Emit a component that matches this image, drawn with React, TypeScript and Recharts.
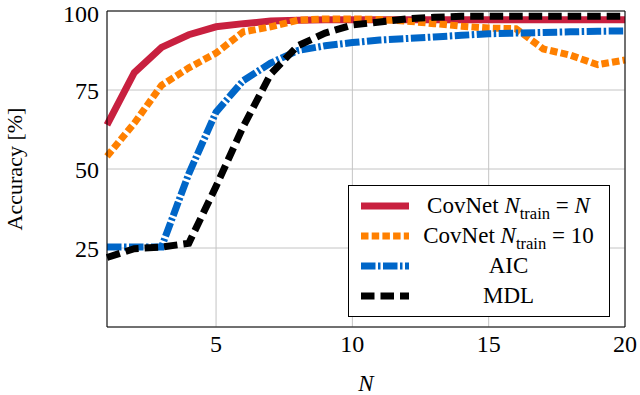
import { LineChart, Line, XAxis, YAxis, CartesianGrid, Legend } from 'recharts'

const FONT = '"Liberation Serif", "DejaVu Serif", "Noto Serif", serif'

const N_VALUES = [1, 2, 3, 4, 5, 6, 7, 8, 9, 10, 11, 12, 13, 14, 15, 16, 17, 18, 19, 20]
const COVNET_N = [64, 80.5, 88.5, 92.5, 95, 96, 96.8, 97.1, 97.2, 97.2, 97.2, 97.2, 97.2, 97.2, 97.2, 97.2, 97.2, 97.2, 97.2, 97.2]
const COVNET_10 = [54, 64.5, 76.5, 82, 86.7, 93.4, 95, 97.1, 97.5, 97.5, 97.3, 96.8, 96, 95.2, 94.6, 94.4, 88, 86, 83, 84.5]
const AIC = [25.3, 25.3, 25.3, 48.5, 68, 78, 83.5, 87.5, 89, 90, 90.8, 91.3, 91.8, 92.3, 92.8, 93, 93.2, 93.4, 93.6, 93.7]
const MDL = [22, 24.8, 25.3, 26.5, 44.5, 63.5, 80, 89, 93, 95.6, 96.5, 97.5, 98, 98.3, 98.3, 98.3, 98.3, 98.3, 98.3, 98.3]

const X_TICKS = [5, 10, 15, 20]
const Y_TICKS = [25, 50, 75, 100]

const data = N_VALUES.map((n, i) => ({
  n,
  covnetN: COVNET_N[i],
  covnet10: COVNET_10[i],
  aic: AIC[i],
  mdl: MDL[i],
}))

const Sub = ({ children }: { children: React.ReactNode }) => (
  <sub style={{ fontSize: '0.72em', verticalAlign: '-0.35em', lineHeight: 0 }}>{children}</sub>
)

const SERIES = [
  {
    key: 'covnetN',
    color: '#c8203f',
    dash: undefined as string | undefined,
    label: (
      <>
        CovNet <i>N</i>
        <Sub>train</Sub> = <i>N</i>
      </>
    ),
  },
  {
    key: 'covnet10',
    color: '#ff8000',
    dash: '7.5 3.2',
    label: (
      <>
        CovNet <i>N</i>
        <Sub>train</Sub> = 10
      </>
    ),
  },
  { key: 'aic', color: '#0066c8', dash: '14.5 2.5 2.5 2.5', label: <>AIC</> },
  { key: 'mdl', color: '#000000', dash: '13.5 6', label: <>MDL</> },
]

function LegendBox() {
  return (
    <div
      style={{
        border: '1px solid #000',
        background: '#fff',
        padding: '5px 0',
        width: 260,
        fontFamily: FONT,
        fontSize: 23,
        color: '#000',
      }}
    >
      {SERIES.map((s) => (
        <div key={s.key} style={{ display: 'flex', alignItems: 'center', height: 30 }}>
          <svg width={48} height={10} style={{ marginLeft: 12, flex: 'none' }}>
            <line x1={0} y1={5} x2={48} y2={5} stroke={s.color} strokeWidth={7} strokeDasharray={s.dash} />
          </svg>
          <span style={{ width: 179, marginLeft: 10, textAlign: 'center', whiteSpace: 'nowrap' }}>{s.label}</span>
        </div>
      ))}
    </div>
  )
}

const tickFont = { fill: '#000', fontSize: 24, fontFamily: FONT }

export default function App() {
  return (
    <div style={{ position: 'absolute', left: 0, top: 0, background: '#fff', fontFamily: FONT }}>
      <LineChart width={640} height={395} data={data} margin={{ top: 11, right: 15, bottom: 0, left: 0 }}>
        <CartesianGrid stroke="#c4c4c4" strokeWidth={1} />
        <XAxis
          dataKey="n"
          type="number"
          domain={[1, 20]}
          ticks={X_TICKS}
          height={68}
          tickLine={false}
          axisLine={false}
          tickSize={0}
          tickMargin={8}
          tick={tickFont}
          label={{ value: 'N', position: 'insideBottom', offset: 4, fill: '#000', fontSize: 23, fontStyle: 'italic', fontFamily: FONT }}
        />
        <YAxis
          type="number"
          domain={[0, 100]}
          ticks={Y_TICKS}
          width={107}
          tickLine={false}
          axisLine={false}
          tickSize={0}
          tickMargin={8}
          tick={tickFont}
          label={{
            value: 'Accuracy [%]',
            angle: -90,
            position: 'insideLeft',
            offset: 14,
            fill: '#000',
            fontSize: 22,
            fontFamily: FONT,
            style: { textAnchor: 'middle' },
          }}
        />
        {/* inward ticks + frame, pgfplots style */}
        <XAxis xAxisId="bottomFrame" orientation="bottom" mirror type="number" domain={[1, 20]} allowDataOverflow ticks={X_TICKS} tick={false} tickSize={4} height={10} stroke="#000" />
        <XAxis xAxisId="topFrame" orientation="top" mirror type="number" domain={[1, 20]} allowDataOverflow ticks={X_TICKS} tick={false} tickSize={4} height={10} stroke="#000" />
        <YAxis yAxisId="leftFrame" orientation="left" mirror type="number" domain={[0, 100]} allowDataOverflow ticks={Y_TICKS} tick={false} tickSize={4} width={10} stroke="#000" />
        <YAxis yAxisId="rightFrame" orientation="right" mirror type="number" domain={[0, 100]} allowDataOverflow ticks={Y_TICKS} tick={false} tickSize={4} width={10} stroke="#000" />
        {SERIES.map((s) => (
          <Line
            key={s.key}
            type="linear"
            dataKey={s.key}
            stroke={s.color}
            strokeWidth={7}
            strokeDasharray={s.dash}
            dot={false}
            activeDot={false}
            isAnimationActive={false}
          />
        ))}
        <Legend
          layout="vertical"
          align="center"
          verticalAlign="middle"
          content={() => <LegendBox />}
          wrapperStyle={{ position: 'absolute', left: 348, top: 185, width: 262, height: 'auto' }}
        />
      </LineChart>
    </div>
  )
}
